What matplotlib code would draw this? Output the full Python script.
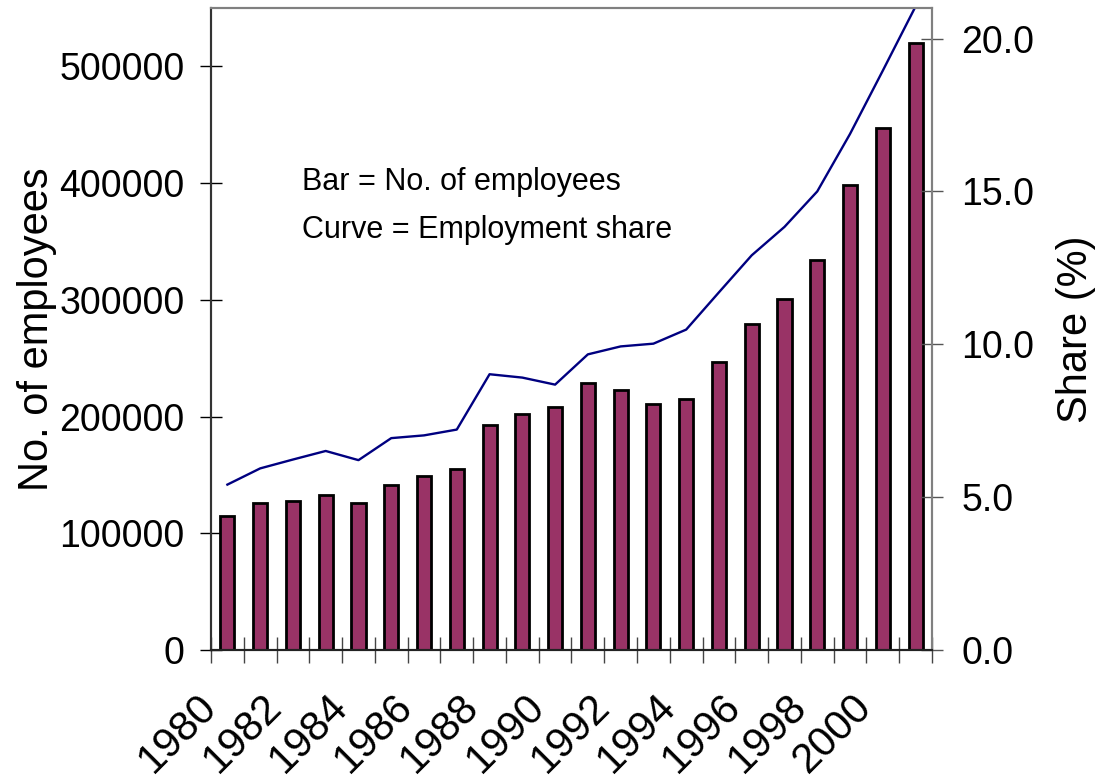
import numpy as np
import matplotlib
matplotlib.use("Agg")
import matplotlib.pyplot as plt
from matplotlib.transforms import ScaledTranslation

plt.rcParams['font.family'] = ['Liberation Sans', 'DejaVu Sans']

years = list(range(1980, 2002))
employees = [115000, 126000, 128000, 133000, 126000, 141000, 149000, 155000,
             193000, 202000, 208000, 229000, 223000, 211000, 215000, 247000,
             279000, 301000, 334000, 398000, 447000, 520000]
share = [5.41, 5.94, 6.23, 6.51, 6.21, 6.93, 7.02, 7.21, 9.02, 8.91, 8.68,
         9.67, 9.93, 10.02, 10.48, 11.70, 12.91, 13.84, 15.0, 16.88, 18.95, 21.05]
year_labels = [str(y) for y in years[::2] if y <= 2000]

fig = plt.figure(figsize=(10.99, 7.82), dpi=100)
ax = fig.add_axes([0.192, 0.1688, 0.656, 0.821])
ax2 = ax.twinx()

x = np.arange(len(years))
ax.bar(x, employees, width=0.43, color='#993366', edgecolor='black', linewidth=2.0, zorder=2)
ax2.plot(x, share, color='#000080', linewidth=1.7)

ax.set_xlim(-0.5, len(years) - 0.5)
ax.set_ylim(0, 550000)
ax2.set_ylim(0, 21.0)

ax.set_yticks([0, 100000, 200000, 300000, 400000, 500000])
ax.set_yticklabels(['0', '100000', '200000', '300000', '400000', '500000'])
ax2.set_yticks([0, 5, 10, 15, 20])
ax2.set_yticklabels(['%.1f' % v for v in [0, 5, 10, 15, 20]])

# year labels every 2nd bar, tick marks between bars
ax.set_xticks(x[::2][:len(year_labels)])
ax.set_xticklabels(year_labels, rotation=45, ha='right', rotation_mode='anchor')
ax.set_xticks(np.arange(-0.5, len(years)), minor=True)
ax.tick_params(axis='x', which='major', length=0, pad=26, labelsize=30)
ax.tick_params(axis='x', which='minor', direction='inout', length=19, width=1, color='#444444')
ax.tick_params(axis='y', direction='inout', length=16, width=1, pad=11, labelsize=27)
ax2.tick_params(axis='y', direction='inout', length=16, width=1, pad=13, labelsize=27, color='#555555')

# nudge year labels left (after tick_params, which resets transforms)
shift = ScaledTranslation(-0.31, 0, fig.dpi_scale_trans)
for lbl in ax.get_xticklabels():
    lbl.set_transform(lbl.get_transform() + shift)

ax.set_ylabel('No. of employees', fontsize=30, labelpad=2)
ax2.set_ylabel('Share (%)', fontsize=30, labelpad=16)

for a in (ax, ax2):
    a.spines['left'].set_color('#333333')
    a.spines['bottom'].set_color('#222222')
    a.spines['top'].set_color('#808080')
    a.spines['right'].set_color('#808080')
    for s in a.spines.values():
        s.set_linewidth(1.5)

ax.text(0.126, 0.7165, 'Bar = No. of employees', transform=ax.transAxes, fontsize=22, va='baseline')
ax.text(0.126, 0.6417, 'Curve = Employment share', transform=ax.transAxes, fontsize=22, va='baseline')

fig.savefig('out.png', dpi=100)
